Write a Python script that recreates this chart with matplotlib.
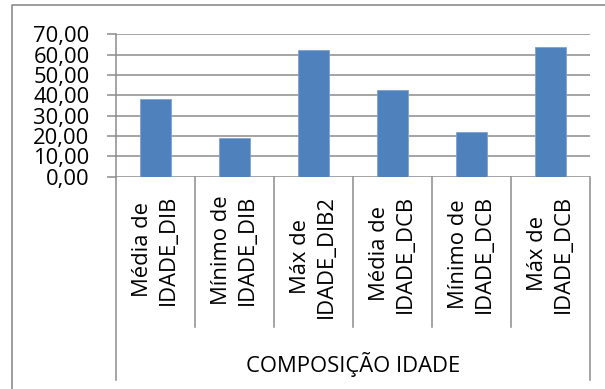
import matplotlib.pyplot as plt
from matplotlib.lines import Line2D
from matplotlib.ticker import FuncFormatter
import matplotlib.transforms as mtransforms

categorias = ['Média de\nIDADE_DIB', 'Mínimo de\nIDADE_DIB', 'Máx de\nIDADE_DIB2',
              'Média de\nIDADE_DCB', 'Mínimo de\nIDADE_DCB', 'Máx de\nIDADE_DCB']
valores = [38.0, 19.1, 62.2, 42.6, 21.8, 63.8]
titulo_grupo = 'COMPOSIÇÃO IDADE'
y_ticks = [0, 10, 20, 30, 40, 50, 60, 70]

plt.rcParams['font.family'] = ['Open Sans', 'DejaVu Sans']
cinza = '#8c8c8c'

W, H = 605, 389
fig = plt.figure(figsize=(W / 100, H / 100), dpi=100)
# area do grafico em pixels (x0, topo, x1, zero)
x0, ytop, x1, yzero = 116, 34.3, 590, 176.7
ax = fig.add_axes([x0 / W, 1 - yzero / H, (x1 - x0) / W, (yzero - ytop) / H])

x = list(range(len(valores)))
ax.bar(x, valores, width=0.405, color='#4f81bd', edgecolor='#7da2d2', linewidth=0.6, zorder=3)

ax.set_xlim(-0.5, len(valores) - 0.5)
ax.set_ylim(0, 70)
ax.set_yticks(y_ticks)
ax.yaxis.set_major_formatter(FuncFormatter(lambda v, p: f'{v:.2f}'.replace('.', ',')))
ax.grid(axis='y', color=cinza, linewidth=1.1, zorder=0)
for s in ['top', 'right', 'bottom']:
    ax.spines[s].set_visible(False)
ax.spines['left'].set_color(cinza)
ax.spines['left'].set_linewidth(1.1)
ax.tick_params(axis='y', length=6.5, width=1.1, color=cinza, labelsize=15.8, pad=12.5)

ax.set_xticks(x)
ax.set_xticklabels(categorias, rotation=90, va='top', ha='center',
                   multialignment='center', linespacing=1.3, fontsize=15.8)
ax.tick_params(axis='x', length=0, pad=13)

# linhas separadoras do eixo de categorias
trans = mtransforms.blended_transform_factory(ax.transData, fig.transFigure)
for i in range(len(valores) + 1):
    xs = i - 0.5
    fundo = 380 if i in (0, len(valores)) else 327
    ax.add_line(Line2D([xs, xs], [1 - yzero / H, 1 - fundo / H], transform=trans,
                       color=cinza, linewidth=1.1, clip_on=False))

fig.text((x0 + x1) / 2 / W, 1 - 371.7 / H, titulo_grupo, ha='center', va='baseline', fontsize=15.8)

# moldura externa
fig.add_artist(Line2D([12 / W, 12 / W, 1], [0, 1 - 4.7 / H, 1 - 4.7 / H],
                      color=cinza, linewidth=1.2))

fig.savefig('out.png', dpi=100)
